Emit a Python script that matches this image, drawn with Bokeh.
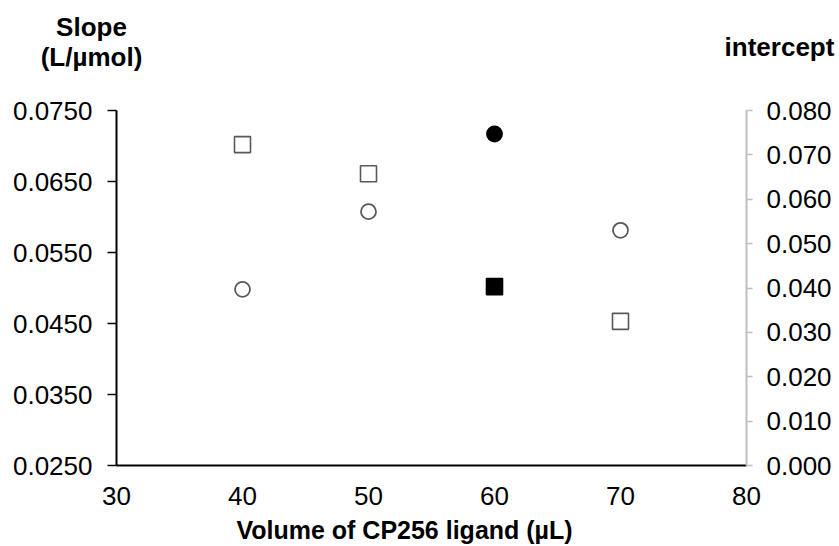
from bokeh.plotting import figure
from bokeh.models import (Range1d, LinearAxis, FixedTicker, NumeralTickFormatter,
                          ColumnDataSource, Label)
from bokeh.embed import file_html
from bokeh.resources import INLINE

# ---- data ----
volume = [40, 50, 60, 70]                       # µL
slope = [0.0702, 0.0661, 0.0502, 0.0453]         # L/µmol (left axis, squares)
intercept = [0.0397, 0.0572, 0.0747, 0.0530]     # right axis, circles
optimum_volume = 60                              # filled markers

x_ticks = [30, 40, 50, 60, 70, 80]
left_ticks = [0.025, 0.035, 0.045, 0.055, 0.065, 0.075]
right_ticks = [0.0, 0.01, 0.02, 0.03, 0.04, 0.05, 0.06, 0.07, 0.08]

FONT = "Liberation Sans"
TICK_FS = "26px"
TITLE_FS = "26px"

fills = ["black" if v == optimum_volume else "white" for v in volume]
lines = ["black" if v == optimum_volume else "#595959" for v in volume]
src = ColumnDataSource(dict(x=volume, slope=slope, intercept=intercept,
                            fill=fills, line=lines))

FL, FR, FT, FB = 116, 93, 110, 81
p = figure(width=839, height=546, output_backend="svg", toolbar_location=None,
           x_range=Range1d(30, 80), y_range=Range1d(0.025, 0.075),
           min_border_left=FL, min_border_right=FR, min_border_top=FT,
           min_border_bottom=FB)
p.extra_y_ranges = {"right": Range1d(0.0, 0.08)}
p.outline_line_color = None
p.xgrid.visible = False
p.ygrid.visible = False
p.background_fill_color = "white"
p.border_fill_color = "white"

# x axis
xa = p.xaxis[0]
xa.ticker = FixedTicker(ticks=x_ticks)
xa.formatter = NumeralTickFormatter(format="0")
xa.axis_line_color = "black"
xa.axis_line_width = 2
xa.major_tick_out = 0
xa.major_tick_in = 0
xa.minor_tick_out = 0
xa.minor_tick_in = 0
xa.major_label_text_font = FONT
xa.major_label_text_font_size = TICK_FS
xa.major_label_text_color = "black"
xa.major_label_standoff = 21

# left y axis
ya = p.yaxis[0]
ya.ticker = FixedTicker(ticks=left_ticks)
ya.formatter = NumeralTickFormatter(format="0.0000")
ya.axis_line_color = "black"
ya.axis_line_width = 2
ya.major_tick_out = 9
ya.major_tick_in = 0
ya.major_tick_line_color = "black"
ya.major_tick_line_width = 1.5
ya.minor_tick_out = 0
ya.minor_tick_in = 0
ya.major_label_text_font = FONT
ya.major_label_text_font_size = TICK_FS
ya.major_label_text_color = "black"
ya.major_label_standoff = 15

# right y axis
ra = LinearAxis(y_range_name="right", ticker=FixedTicker(ticks=right_ticks),
                formatter=NumeralTickFormatter(format="0.000"))
ra.axis_line_color = "#bfbfbf"
ra.axis_line_width = 2
ra.major_tick_out = 6
ra.major_tick_in = 0
ra.major_tick_line_color = "#bfbfbf"
ra.major_tick_line_width = 1.5
ra.minor_tick_out = 0
ra.minor_tick_in = 0
ra.major_label_text_font = FONT
ra.major_label_text_font_size = TICK_FS
ra.major_label_text_color = "black"
ra.major_label_standoff = 14
p.add_layout(ra, "right")

# markers
p.scatter("x", "slope", source=src, marker="square", size=16,
          fill_color="fill", line_color="line", line_width=1.6)
p.scatter("x", "intercept", source=src, marker="circle", size=15,
          fill_color="fill", line_color="line", line_width=1.8,
          y_range_name="right")

# titles placed in side panels (not clipped to the frame);
# y offsets are relative to each stacked panel's bottom edge
def lab(text, x, y, side, fs=TITLE_FS):
    p.add_layout(Label(x=x, y=y, x_units="screen", y_units="screen", text=text,
                       text_font=FONT, text_font_size=fs,
                       text_font_style="bold", text_align="center",
                       text_baseline="alphabetic", text_color="black"), side)

lab("Slope", 91 - FL, 84, "above")
lab("(L/µmol)", 91 - FL, 24, "above")
lab("intercept", 779 - FL, 4, "above")
lab("Volume of CP256 ligand (µL)", 404 - FL, 6, "below", "25px")

open("out.html", "w").write(file_html(p, INLINE))
